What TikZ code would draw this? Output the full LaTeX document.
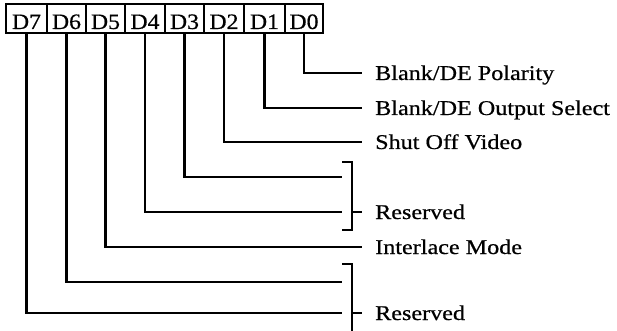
\documentclass[tikz,border=0pt]{standalone}
\usepackage{fontspec}
\setmainfont{Liberation Serif}[FakeStretch=1.15,FakeBold=0.6]
\newfontfamily\boxfont{Liberation Serif}[FakeStretch=1.08,FakeBold=0.6]
\tikzset{
  bitbox/.style={draw, line width=2.2pt, minimum height=29pt, inner sep=0pt,
    text height=21pt, text depth=0pt, font=\boxfont\fontsize{22}{22}\selectfont},
  wire/.style={line width=2.2pt},
  lab/.style={anchor=base west, inner sep=0pt, font=\fontsize{21}{21}\selectfont}
}
\begin{document}
\begin{tikzpicture}[x=1pt,y=-1pt]
\useasboundingbox (0,0) rectangle (617,331);
% register boxes
\node[bitbox, minimum width=41pt] (d7) at (26.5,18.5) {D7};
\node[bitbox, minimum width=39pt] (d6) at (66.5,18.5) {D6};
\node[bitbox, minimum width=39pt] (d5) at (105.5,18.5) {D5};
\node[bitbox, minimum width=40pt] (d4) at (145,18.5) {D4};
\node[bitbox, minimum width=39pt] (d3) at (184.5,18.5) {D3};
\node[bitbox, minimum width=40pt] (d2) at (224,18.5) {D2};
\node[bitbox, minimum width=41pt] (d1) at (264.5,18.5) {D1};
\node[bitbox, minimum width=38pt] (d0) at (304,18.5) {D0};
% labels
\node[lab] (l0) at (375,80) {Blank/DE Polarity};
\node[lab] (l1) at (375,115) {Blank/DE Output Select};
\node[lab] (l2) at (375,149) {Shut Off Video};
\node[lab] (l34) at (375,219) {Reserved};
\node[lab] (l5) at (375,254) {Interlace Mode};
\node[lab] (l67) at (375,320) {Reserved};
% line ends
\coordinate (e0) at (362,73);
\coordinate (e1) at (362,108);
\coordinate (e2) at (362,142);
\coordinate (e3) at (342,177);
\coordinate (e4) at (342,212);
\coordinate (e5) at (362,247);
\coordinate (e6) at (342,282);
\coordinate (e7) at (342,313);
% connectors
\draw[wire] (d0.south) |- (e0);
\draw[wire] (d1.south) |- (e1);
\draw[wire] (d2.south) |- (e2);
\draw[wire] (d3.south) |- (e3);
\draw[wire] (d4.south) |- (e4);
\draw[wire] (d5.south) |- (e5);
\draw[wire] (d6.south) |- (e6);
\draw[wire] (d7.south) |- (e7);
% brackets
\coordinate (ba1) at (342,162);
\coordinate (ba2) at (342,230);
\coordinate (bt1) at (362,212);
\draw[wire] (ba1) -- (352,162) -- (352,230) -- (ba2);
\draw[wire] (352,212) -- (bt1);
\coordinate (bb1) at (342,264);
\coordinate (bt2) at (362,313);
\draw[wire] (bb1) -- (352,264) -- (352,331);
\draw[wire] (352,313) -- (bt2);
\end{tikzpicture}
\end{document}
